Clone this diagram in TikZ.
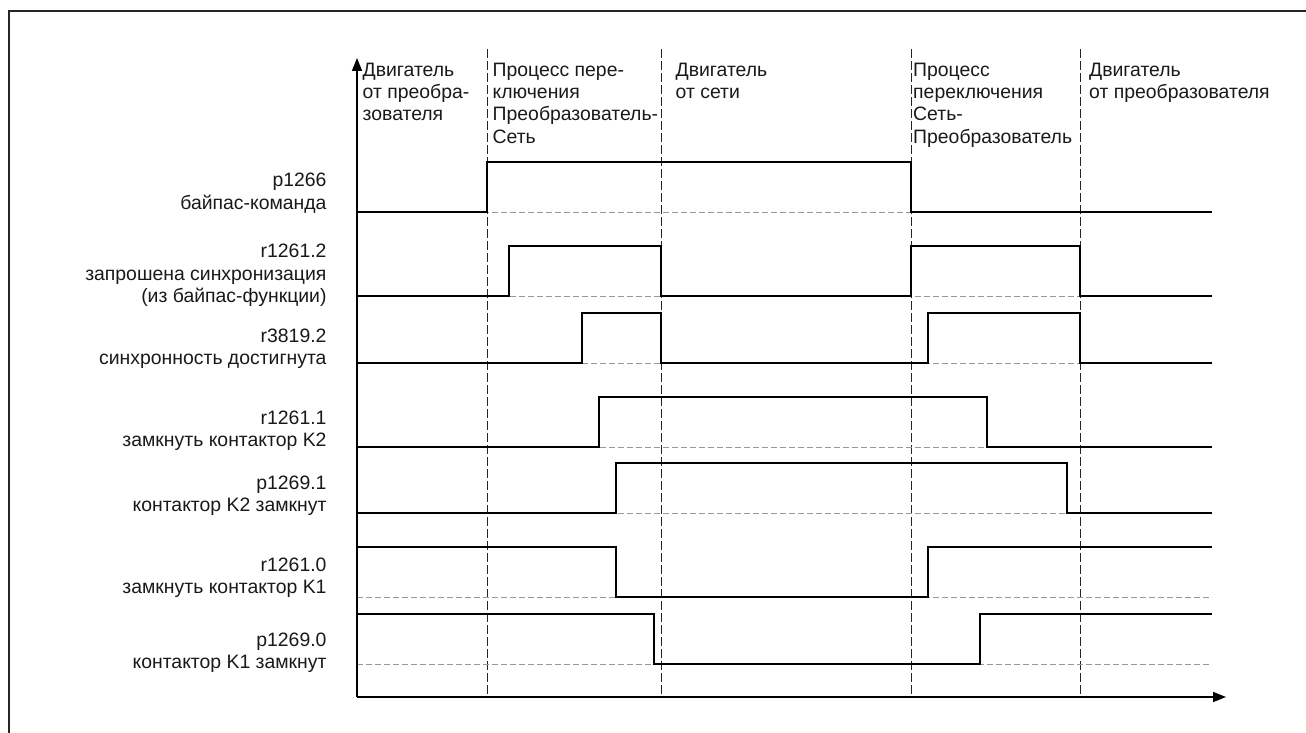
\documentclass[tikz,border=0pt]{standalone}
\usepackage{fontspec}
\setmainfont{Liberation Sans}
\usetikzlibrary{arrows.meta}
\begin{document}
\begin{tikzpicture}[x=1pt,y=-1pt,
  lbl/.style={inner sep=0pt,font=\fontsize{19.4}{22}\selectfont,text=black!90},
  rlbl/.style={lbl,anchor=base east},
  hlbl/.style={lbl,anchor=base west},
  sig/.style={line width=1.6pt,line join=miter},
  zero/.style={gray!80,line width=0.9pt,dash pattern=on 6pt off 3pt},
  sep/.style={black!85,line width=1pt,dash pattern=on 9pt off 3pt},
  axis/.style={line width=1.6pt,-{Triangle[length=13pt,width=10pt]}},
  frame/.style={line width=1.6pt,black!85}]
\useasboundingbox (0,0) rectangle (1306,733);

% outer frame (top and left edges)
\draw[frame] (9,733) -- (9,11) -- (1306,11);

% phase separators
\foreach \x/\n in {487/s1,661/s2,911/s3,1080/s4}{
  \coordinate (\n t) at (\x,49);
  \coordinate (\n b) at (\x,697);
  \draw[sep] (\n t) -- (\n b);
}

% zero levels of the signals
\foreach \y/\n in {212/z1,296/z2,363/z3,447/z4,513/z5,597/z6,664/z7}{
  \coordinate (\n a) at (357,\y);
  \coordinate (\n e) at (1212,\y);
  \draw[zero] (\n a) -- (\n e);
}

% axes
\coordinate (O) at (357,697);
\coordinate (Ytip) at (357,58);
\coordinate (Xtip) at (1226,697);
\draw[axis] (O) -- (Ytip);
\draw[axis] (O) -- (Xtip);

% signal traces
\draw[sig] (357,212) -- (487,212) -- (487,162) -- (911,162) -- (911,212) -- (1212,212);
\draw[sig] (357,296) -- (509,296) -- (509,246) -- (661,246) -- (661,296) -- (911,296)
           -- (911,246) -- (1080,246) -- (1080,296) -- (1212,296);
\draw[sig] (357,363) -- (582,363) -- (582,313) -- (661,313) -- (661,363) -- (928,363)
           -- (928,313) -- (1080,313) -- (1080,363) -- (1212,363);
\draw[sig] (357,447) -- (599,447) -- (599,397) -- (987,397) -- (987,447) -- (1212,447);
\draw[sig] (357,513) -- (616,513) -- (616,463) -- (1067,463) -- (1067,513) -- (1212,513);
\draw[sig] (357,547) -- (616,547) -- (616,597) -- (928,597) -- (928,547) -- (1212,547);
\draw[sig] (357,614) -- (654,614) -- (654,664) -- (980,664) -- (980,614) -- (1212,614);

% signal names
\node[rlbl] (a1) at (326.7,186.7) {p1266};
\node[rlbl] (a2) at (326.7,209) {байпас-команда};
\node[rlbl] (b1) at (326.7,257.5) {r1261.2};
\node[rlbl] (b2) at (326.7,280) {запрошена синхронизация};
\node[rlbl] (b3) at (326.7,302) {(из байпас-функции)};
\node[rlbl] (c1) at (326.7,342) {r3819.2};
\node[rlbl] (c2) at (326.7,364) {синхронность достигнута};
\node[rlbl] (d1) at (326.7,424) {r1261.1};
\node[rlbl] (d2) at (326.7,446) {замкнуть контактор K2};
\node[rlbl] (e1) at (326.7,489.5) {p1269.1};
\node[rlbl] (e2) at (326.7,511.5) {контактор K2 замкнут};
\node[rlbl] (f1) at (326.7,571.5) {r1261.0};
\node[rlbl] (f2) at (326.7,593.5) {замкнуть контактор K1};
\node[rlbl] (g1) at (326.7,646.5) {p1269.0};
\node[rlbl] (g2) at (326.7,668.5) {контактор K1 замкнут};

% phase headings
\node[hlbl] (h11) at (362.5,77) {Двигатель};
\node[hlbl] (h12) at (362.5,99) {от преобра-};
\node[hlbl] (h13) at (362.5,121) {зователя};
\node[hlbl] (h21) at (492.5,77) {Процесс пере-};
\node[hlbl] (h22) at (492.5,99) {ключения};
\node[hlbl] (h23) at (492.5,121) {Преобразователь-};
\node[hlbl] (h24) at (492.5,143) {Сеть};
\node[hlbl] (h31) at (675.5,77) {Двигатель};
\node[hlbl] (h32) at (675.5,99) {от сети};
\node[hlbl] (h41) at (913,77) {Процесс};
\node[hlbl] (h42) at (913,99) {переключения};
\node[hlbl] (h43) at (913,121) {Сеть-};
\node[hlbl] (h44) at (913,143) {Преобразователь};
\node[hlbl] (h51) at (1089,77) {Двигатель};
\node[hlbl] (h52) at (1089,99) {от преобразователя};
\end{tikzpicture}
\end{document}
